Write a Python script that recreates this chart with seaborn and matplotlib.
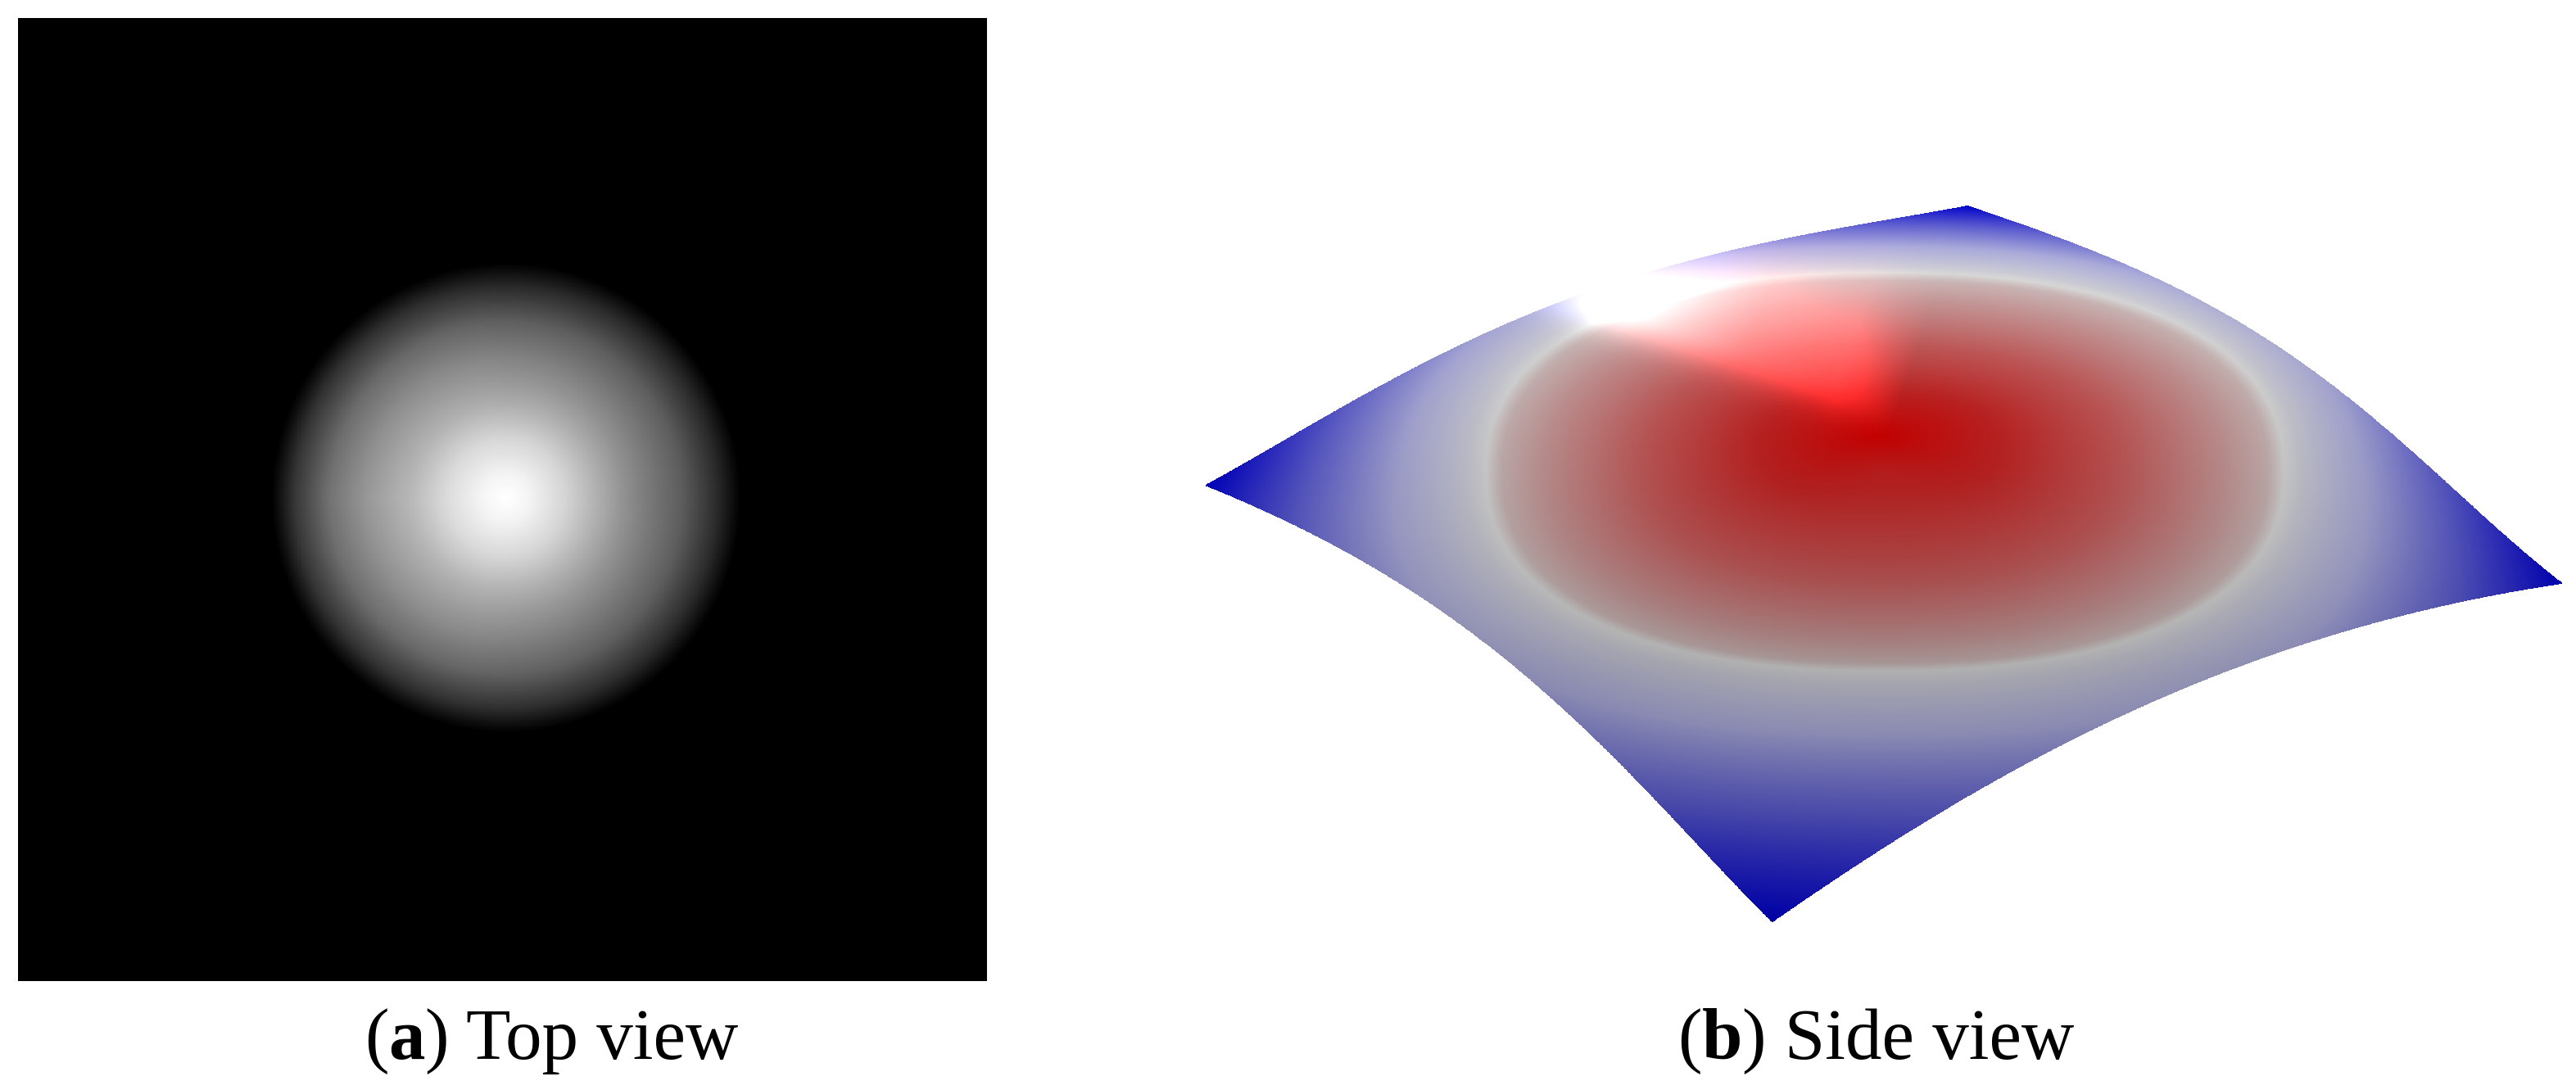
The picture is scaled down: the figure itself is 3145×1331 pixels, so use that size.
import numpy as np
import matplotlib
matplotlib.use('Agg')
import matplotlib.pyplot as plt
import seaborn as sns

# top view: grey level read along four directions from the spot centre
radius_steps = [0, 0.1, 0.25, 0.4, 0.5, 0.6, 0.75, 0.9, 0.97, 1.0, 1.05]
grey_right = [255, 243, 212, 172, 145, 122, 92, 42, 12, 0, 0]
grey_up = [255, 243, 214, 172, 150, 130, 95, 42, 12, 0, 0]
grey_left = [255, 245, 220, 185, 168, 150, 115, 55, 14, 0, 0]
grey_down = [255, 243, 214, 174, 152, 132, 98, 45, 12, 0, 0]

# side view: outline of the sheet, read in reference pixels
edge_top_left = [(1472, 592), (1640, 497), (1805, 409), (1970, 347), (2135, 300), (2402, 251)]
edge_top_right = [(2402, 251), (2521, 294), (2686, 366), (2796, 434), (2906, 519), (3016, 616), (3127, 712)]
edge_bottom_left = [(1472, 592), (1640, 672), (1750, 737), (1860, 822), (1970, 925), (2080, 1037), (2163, 1125)]
edge_bottom_right = [(2163, 1125), (2300, 1034), (2466, 937), (2631, 856), (2796, 794), (2961, 747), (3127, 716)]

# side view: colour against distance from the peak (1 = pale ring, 1.75 = corners)
ramp_pos = [0, 0.3, 0.6, 0.85, 0.96, 1.0, 1.05, 1.25, 1.5, 1.75]
ramp_colors = ['#be0000', '#b22020', '#b25252', '#b48888', '#b8a4a4', '#c4c4c4', '#b8b8c2',
               '#9a9ac6', '#5252bc', '#0000b8']

ring_center = (2301, 576)
ring_size = (487, 243)
peak_lift = 65

captions = [('a', ' Top view', 445), ('b', ' Side view', 2048)]

sns.set_theme(style='white')
plt.rcParams['font.family'] = ['Liberation Serif', 'DejaVu Serif']

W, H = 3145, 1331
fig = plt.figure(figsize=(W / 100, H / 100), dpi=100)

# panel a
ax1 = fig.add_axes([22 / W, 1 - 1198 / H, 1183 / W, 1176 / H])
n = 700
xx, yy = np.meshgrid(np.linspace(0, 1183, n), np.linspace(0, 1176, n))
dx, dy = xx - 596, yy - 586
r = np.hypot(dx, dy) / 287
tot = np.abs(dx) + np.abs(dy) + 1e-6
spot = (np.clip(dx / tot, 0, 1) * np.interp(r, radius_steps, grey_right)
        + np.clip(-dx / tot, 0, 1) * np.interp(r, radius_steps, grey_left)
        + np.clip(dy / tot, 0, 1) * np.interp(r, radius_steps, grey_down)
        + np.clip(-dy / tot, 0, 1) * np.interp(r, radius_steps, grey_up))
sns.heatmap(spot, ax=ax1, cmap='gray', vmin=0, vmax=255, cbar=False,
            xticklabels=False, yticklabels=False, rasterized=True)


def edge_fit(points, s):
    pts = np.array(points, dtype=float)
    lens = np.r_[0, np.cumsum(np.hypot(*np.diff(pts, axis=0).T))]
    t = lens / lens[-1]
    return (np.polyval(np.polyfit(t, pts[:, 0], 4), s),
            np.polyval(np.polyfit(t, pts[:, 1], 4), s))


def ring_dist(x, y, lift=0.0):
    a = np.abs(x - ring_center[0]) / ring_size[0]
    b = np.abs(y - ring_center[1] + lift) / ring_size[1]
    return (a ** 2.3 + b ** 2.3) ** (1 / 2.3)


# panel b: blend the four outline curves into one sheet
ax2 = fig.add_axes([0, 0, 1, 1], zorder=2)
ax2.patch.set_alpha(0)
m = 1100
s = np.linspace(0, 1, m)
u, v = np.meshgrid(s, s)
tlx, tly = edge_fit(edge_top_left, s)
brx, bry = edge_fit(edge_bottom_right, s)
blx, bly = edge_fit(edge_bottom_left, s)
trx, try_ = edge_fit(edge_top_right, s)
ex = (1 - v) * tlx[None, :] + v * brx[None, :] + (1 - u) * blx[:, None] + u * trx[:, None]
ey = (1 - v) * tly[None, :] + v * bry[None, :] + (1 - u) * bly[:, None] + u * try_[:, None]
c = [np.array(p, dtype=float) for p in (edge_top_left[0], edge_top_left[-1],
                                        edge_bottom_right[0], edge_bottom_right[-1])]
bx = (1 - u) * (1 - v) * c[0][0] + u * (1 - v) * c[1][0] + (1 - u) * v * c[2][0] + u * v * c[3][0]
by = (1 - u) * (1 - v) * c[0][1] + u * (1 - v) * c[1][1] + (1 - u) * v * c[2][1] + u * v * c[3][1]
X, Y = ex - bx, ey - by

# ring distance on screen, the inner part pulled up to the peak
r0 = ring_dist(X, Y)
lift = peak_lift * np.clip(1 - r0, 0, 1) ** 2
rr = ring_dist(X + 14 * np.clip(1 - r0, 0, 1) ** 2, Y, lift)

# stretch outside the ring so that all four corners reach the end of the ramp
corner_scale = [0.75 / (ring_dist(*p) - 1) for p in (c[0], c[1], c[2], c[3])]
scale = ((1 - u) * (1 - v) * corner_scale[0] + u * (1 - v) * corner_scale[1]
         + (1 - u) * v * corner_scale[2] + u * v * corner_scale[3])
pos = np.where(rr > 1, 1 + (rr - 1) * scale, rr)

ramp = matplotlib.colors.LinearSegmentedColormap.from_list(
    'sheet', [(p / 1.75, col) for p, col in zip(ramp_pos, ramp_colors)], N=1024)
rgb = ramp(np.clip(pos / 1.75, 0, 1))[..., :3]

# shading: lighter towards the top, glare running up left from the peak
shade = np.interp(Y, [330, 816], [1.1, 0.9])[..., None]
gl = np.array([1950 - 2285, 365 - 480], dtype=float)
gl_len = np.hypot(*gl)
gl /= gl_len
tx, ty = X - 2285, Y - 480
along = (tx * gl[0] + ty * gl[1]) / gl_len
perp = tx * gl[1] - ty * gl[0]
width = np.where(perp < 0, 100, 34)
glare = np.exp(-(perp / width) ** 2) * np.clip((along + 0.1) / 0.22, 0, 1) * np.clip((1.5 - along) / 0.6, 0, 1)
# the red channel saturates first, green and blue only catch up further from the peak
pale = np.clip((along - 0.45) / 0.5, 0, 1)
gain = np.stack([1 + 0.5 * glare, 1 + (0.18 + 0.32 * pale) * glare, 1 + (0.18 + 0.32 * pale) * glare], axis=-1)
rgb = rgb * shade * gain + 0.06 * glare[..., None] * np.array([1, 1, 1])
rgb = np.clip(rgb, 0, 1)

ax2.pcolormesh(X, Y, rgb[:-1, :-1], shading='flat', rasterized=True, antialiased=False, edgecolor='face', linewidth=0.5)
ax2.set_xlim(0, W)
ax2.set_ylim(H, 0)
ax2.axis('off')

# captions
fig.canvas.draw()
rend = fig.canvas.get_renderer()
for letter, rest, x0 in captions:
    t1 = fig.text(x0 / W, 1 - 1293 / H, '(', fontsize=64, color='black')
    x = t1.get_window_extent(rend).x1
    t2 = fig.text(x / W, 1 - 1293 / H, letter, fontsize=64, fontweight='bold', color='black')
    x = t2.get_window_extent(rend).x1
    t3 = fig.text(x / W, 1 - 1293 / H, ')' + rest, fontsize=64, color='black')

fig.savefig('out.png', dpi=100, facecolor='white')
